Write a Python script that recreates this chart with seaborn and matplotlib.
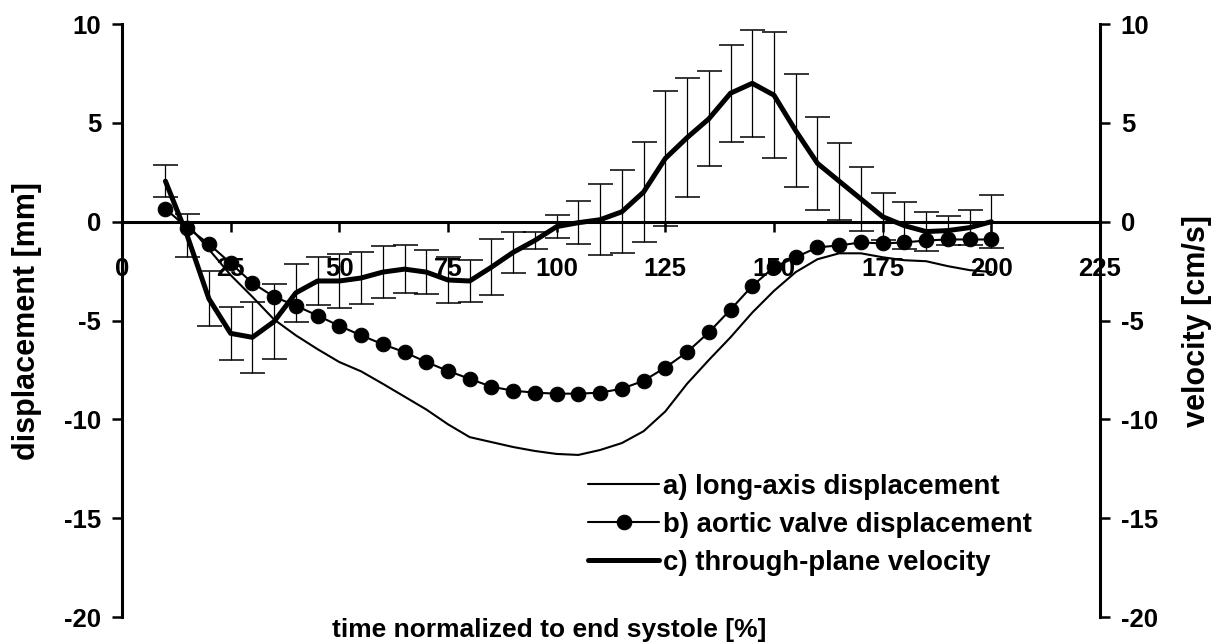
import numpy as np
import matplotlib
matplotlib.use("Agg")
import matplotlib.pyplot as plt
import seaborn as sns

# time normalized to end systole [%]
t_disp = [15, 20, 25, 30, 35, 40, 45, 50, 55, 60, 65, 70, 75, 80, 85, 90, 95,
          100, 105, 110, 115, 120, 125, 130, 135, 140, 145, 150, 155, 160,
          165, 170, 175, 180, 185, 190, 195, 200]
# a) long-axis displacement [mm]
long_axis = [-0.1, -1.4, -2.7, -3.8, -4.95, -5.75, -6.45, -7.1, -7.57, -8.2,
             -8.85, -9.5, -10.25, -10.9, -11.15, -11.4, -11.6, -11.75, -11.8,
             -11.55, -11.2, -10.6, -9.6, -8.2, -7.0, -5.85, -4.6, -3.5, -2.55,
             -1.9, -1.6, -1.6, -1.8, -1.95, -2.0, -2.25, -2.45, -2.55]

t_full = [10, 15, 20, 25, 30, 35, 40, 45, 50, 55, 60, 65, 70, 75, 80, 85, 90,
          95, 100, 105, 110, 115, 120, 125, 130, 135, 140, 145, 150, 155,
          160, 165, 170, 175, 180, 185, 190, 195, 200]
# b) aortic valve displacement [mm]
aortic_valve = [0.65, -0.3, -1.13, -2.1, -3.1, -3.8, -4.25, -4.75, -5.27,
                -5.75, -6.2, -6.6, -7.1, -7.55, -7.95, -8.35, -8.55, -8.65,
                -8.7, -8.7, -8.65, -8.45, -8.05, -7.38, -6.6, -5.6, -4.45,
                -3.25, -2.3, -1.8, -1.3, -1.2, -1.05, -1.1, -1.05, -0.95,
                -0.9, -0.9, -0.9]
# c) through-plane velocity [cm/s], mean and standard deviation
velocity = [2.05, -0.7, -3.9, -5.65, -5.85, -5.05, -3.6, -3.0, -3.0, -2.85,
            -2.55, -2.4, -2.55, -2.95, -3.0, -2.3, -1.55, -0.95, -0.25, -0.05,
            0.1, 0.5, 1.5, 3.2, 4.25, 5.2, 6.5, 7.0, 6.4, 4.6, 2.95, 2.05,
            1.15, 0.25, -0.2, -0.5, -0.45, -0.3, 0.0]
velocity_sd = [0.8, 1.1, 1.38, 1.35, 1.78, 1.9, 1.45, 1.2, 1.37, 1.3, 1.3,
               1.2, 1.1, 1.15, 1.05, 1.4, 1.05, 0.45, 0.6, 1.1, 1.8, 2.1,
               2.55, 3.4, 3.0, 2.4, 2.45, 2.7, 3.2, 2.85, 2.35, 1.95, 1.6,
               1.2, 1.2, 0.98, 0.72, 0.9, 1.35]

x_ticks = [0, 25, 50, 75, 100, 125, 150, 175, 200, 225]
y_ticks = [-20, -15, -10, -5, 0, 5, 10]

labels = ["a) long-axis displacement", "b) aortic valve displacement",
          "c) through-plane velocity"]

sns.set_theme(style="white")
plt.rcParams["font.family"] = ["Liberation Sans", "DejaVu Sans"]
plt.rcParams["font.weight"] = "bold"
for key in ("text.color", "axes.labelcolor", "xtick.color", "ytick.color",
            "axes.edgecolor"):
    plt.rcParams[key] = "black"

fig = plt.figure(figsize=(12.16, 6.44), dpi=100)
ax = fig.add_axes([0.1003, 0.0419, 0.8043, 0.9208])
ax2 = ax.twinx()

tick_fs = 18.5
axis_lw = 2.2

for a in (ax, ax2):
    a.set_xlim(0, 225)
    a.set_ylim(-20, 10)
    a.set_facecolor("none")
    for s in a.spines.values():
        s.set_color("black")
        s.set_linewidth(axis_lw)
    a.spines["top"].set_visible(False)

ax.spines["right"].set_visible(False)
ax.spines["bottom"].set_position(("data", 0))
ax2.spines["left"].set_visible(False)
ax2.spines["bottom"].set_visible(False)

# displacement curves (left axis)
sns.lineplot(x=t_disp, y=long_axis, ax=ax, color="black", linewidth=1.5,
             label=labels[0], legend=False)
sns.lineplot(x=t_full, y=aortic_valve, ax=ax, color="black", linewidth=1.5,
             marker="o", markersize=10.5, markeredgecolor="black",
             markerfacecolor="black", label=labels[1], legend=False)

# velocity with standard deviation (right axis)
ax2.errorbar(t_full, velocity, yerr=velocity_sd, fmt="none", ecolor="black",
             elinewidth=0.9, capsize=9, capthick=1.1, zorder=1)
sns.lineplot(x=t_full, y=velocity, ax=ax2, color="black", linewidth=3.6,
             label=labels[2], legend=False)
for ln in ax.lines + ax2.lines:
    ln.set_solid_joinstyle("round")
    ln.set_solid_capstyle("round")

ax.set_xticks(x_ticks)
ax.set_xticklabels([str(v) for v in x_ticks])
ax.set_yticks(y_ticks)
ax.set_yticklabels([str(v) for v in y_ticks])
ax2.set_yticks(y_ticks)
ax2.set_yticklabels([str(v) for v in y_ticks])

ax.tick_params(axis="x", direction="out", length=7, width=1.8, pad=18.5,
               labelsize=tick_fs, colors="black", bottom=True)
ax.tick_params(axis="y", direction="out", length=7, width=1.8, pad=8,
               labelsize=tick_fs, colors="black", left=True)
ax2.tick_params(axis="y", direction="out", length=7, width=1.8, pad=8,
                labelsize=tick_fs, colors="black", right=True)
for lab in ax.get_xticklabels() + ax.get_yticklabels() + ax2.get_yticklabels():
    lab.set_fontweight("bold")
ax.grid(False)
ax2.grid(False)

ax.set_ylabel("displacement [mm]", fontsize=22, fontweight="bold")
ax.yaxis.set_label_coords(-0.082, 0.5)
ax2.set_ylabel("velocity [cm/s]", fontsize=22, fontweight="bold")
ax2.yaxis.set_label_coords(1.084, 0.5)
ax.set_xlabel("time normalized to end systole [%]", fontsize=19,
              fontweight="bold")
ax.xaxis.set_label_coords(0.437, -0.002)

handles = ax.get_lines()[:2] + [ax2.get_lines()[-1]]
leg = ax2.legend(handles, labels, loc="upper left",
                 bbox_to_anchor=(0.4836, 0.264), bbox_transform=fig.transFigure,
                 frameon=False, handlelength=2.58, handletextpad=0.15,
                 labelspacing=0.43, borderpad=0, borderaxespad=0,
                 prop={"weight": "bold", "size": 19.8})

fig.savefig("out.png", dpi=100, facecolor="white")
